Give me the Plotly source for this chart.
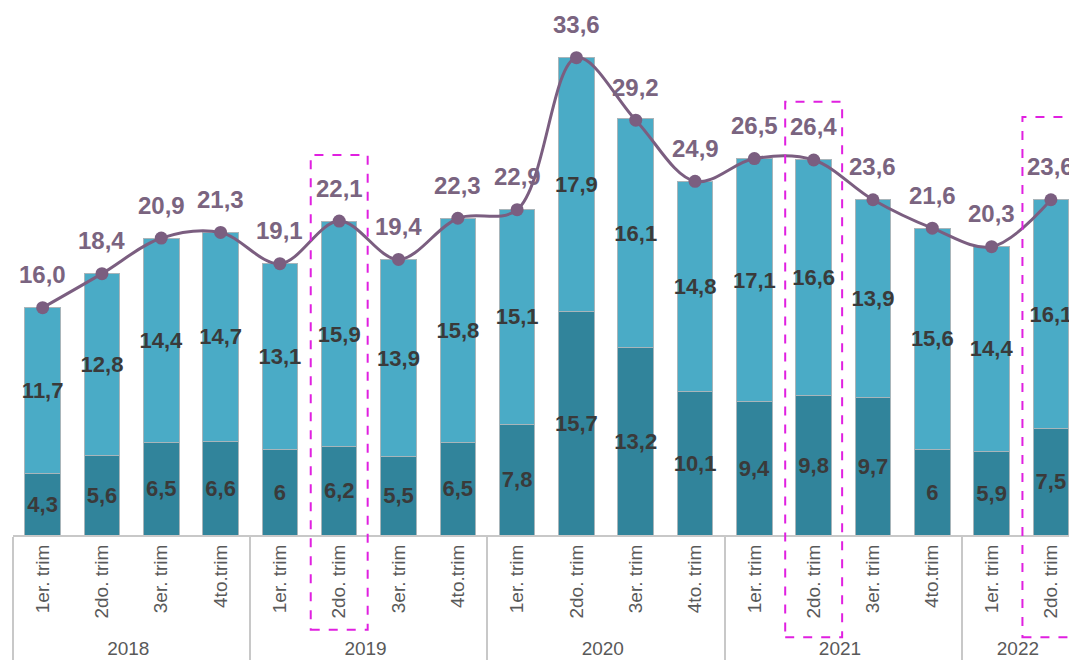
import plotly.graph_objects as go

years = ["2018"] * 4 + ["2019"] * 4 + ["2020"] * 4 + ["2021"] * 4 + ["2022"] * 2
quarters = ["1er. trim", "2do. trim", "3er. trim", "4to.trim",
            "1er. trim", "2do. trim", "3er. trim", "4to.trim",
            "1er. trim", "2do. trim", "3er. trim", "4to. trim",
            "1er. trim", "2do. trim", "3er. trim", "4to.trim",
            "1er. trim", "2do. trim"]
base = [4.3, 5.6, 6.5, 6.6, 6, 6.2, 5.5, 6.5, 7.8, 15.7, 13.2, 10.1, 9.4, 9.8, 9.7, 6, 5.9, 7.5]
upper = [11.7, 12.8, 14.4, 14.7, 13.1, 15.9, 13.9, 15.8, 15.1, 17.9, 16.1, 14.8, 17.1, 16.6, 13.9, 15.6, 14.4, 16.1]
total = [16.0, 18.4, 20.9, 21.3, 19.1, 22.1, 19.4, 22.3, 22.9, 33.6, 29.2, 24.9, 26.5, 26.4, 23.6, 21.6, 20.3, 23.6]

# highlighted quarters: (index, box top, box bottom) in paper units
highlight = [(5, 0.721, -0.18), (13, 0.822, -0.194), (17, 0.793, -0.194)]

x = [years, quarters]
bar_text = dict(family="Liberation Sans", size=22, color="#3a3a3a")
purple = "#7b5e80"

fig = go.Figure()
fig.add_bar(x=x, y=base, marker=dict(color="#31849b", line=dict(color="#a8b5ba", width=1)),
            texttemplate="<b>%{y}</b>", textposition="inside", insidetextanchor="middle",
            textfont=bar_text, textangle=0, cliponaxis=False)
fig.add_bar(x=x, y=upper, marker=dict(color="#4aabc6", line=dict(color="#a8b5ba", width=1)),
            texttemplate="<b>%{y}</b>", textposition="inside", insidetextanchor="middle",
            textfont=bar_text, textangle=0, cliponaxis=False)
fig.add_scatter(x=x, y=total, mode="lines+markers", line=dict(color=purple, width=3, shape="spline"),
                marker=dict(color=purple, size=13), cliponaxis=False)

for i, v in enumerate(total):
    fig.add_annotation(x=i, y=v, text="<b>" + f"{v:.1f}".replace(".", ",") + "</b>", showarrow=False,
                       yanchor="middle", yshift=33, font=dict(family="Liberation Sans", size=24, color="#7a6480"))

for i, top, bottom in highlight:
    fig.add_shape(type="rect", xref="x", yref="paper", x0=i - 0.48, x1=i + 0.48, y0=bottom, y1=top,
                  line=dict(color="#e020e0", width=2, dash="dash"))

fig.update_layout(
    width=1069, height=656, barmode="stack", bargap=0.4, showlegend=False,
    separators=",.", plot_bgcolor="white", paper_bgcolor="white",
    margin=dict(l=5, r=0, t=0, b=129),
    font=dict(family="Liberation Sans", color="#595959"),
    uniformtext=dict(minsize=22, mode="show"),
)
fig.update_xaxes(type="multicategory", range=[-0.5, 17.44], tickangle=-90,
                 tickfont=dict(size=19, color="#595959"), showline=True, linecolor="#c8c8c8",
                 linewidth=2, showdividers=True, dividercolor="#c8c8c8", dividerwidth=2, ticks="")
fig.update_yaxes(range=[0, 37.1], visible=False)

fig.write_html("out.html")
